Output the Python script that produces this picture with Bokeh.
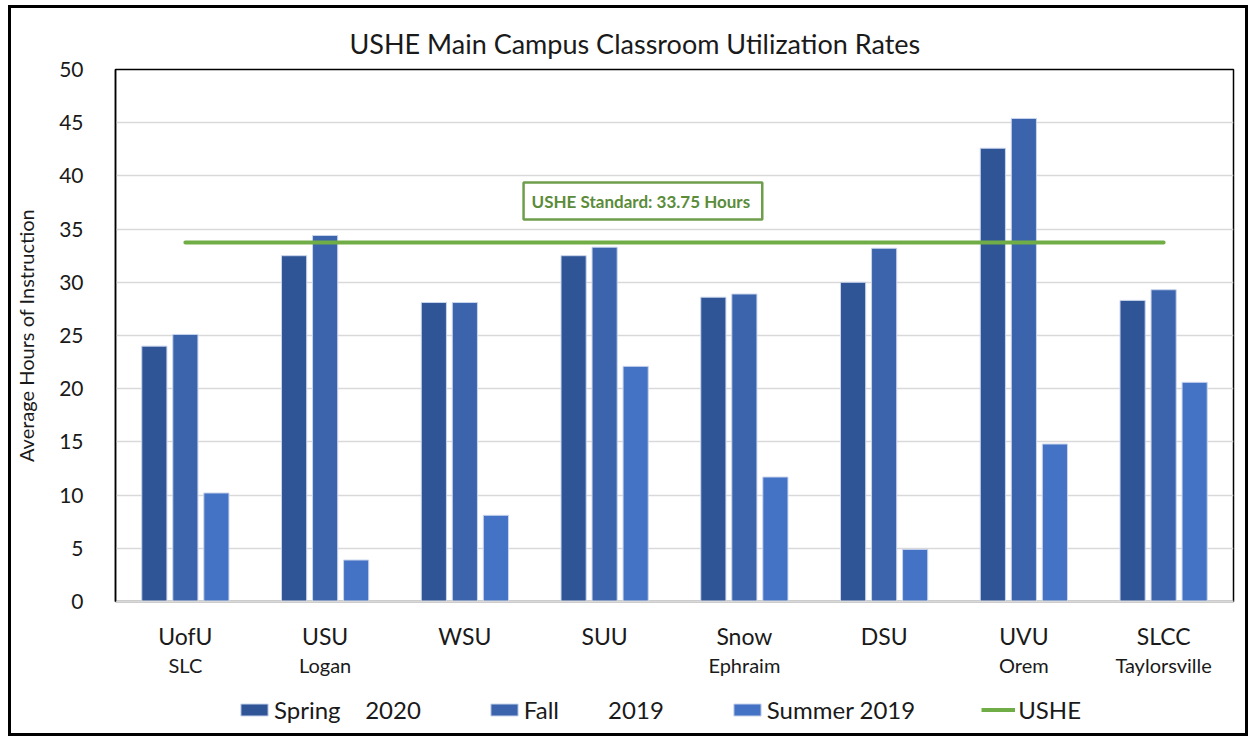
from bokeh.plotting import figure
from bokeh.layouts import column
from bokeh.models import (ColumnDataSource, Range1d, FixedTicker, LinearAxis, Legend, LegendItem,
                          Label, Title)
from bokeh.transform import dodge
from bokeh.embed import file_html
from bokeh.resources import INLINE

schools = ["UofU", "USU", "WSU", "SUU", "Snow", "DSU", "UVU", "SLCC"]
cities = ["SLC", "Logan", "", "", "Ephraim", "", "Orem", "Taylorsville"]
spring_2020 = [24.0, 32.5, 28.1, 32.5, 28.6, 30.0, 42.6, 28.3]
fall_2019 = [25.1, 34.4, 28.1, 33.3, 28.9, 33.2, 45.4, 29.3]
summer_2019 = [10.2, 3.9, 8.1, 22.1, 11.7, 4.9, 14.8, 20.6]
ushe_standard = 33.75
y_ticks = [0, 5, 10, 15, 20, 25, 30, 35, 40, 45, 50]
series_labels = ["Spring    2020", "Fall        2019", "Summer 2019", "USHE"]

FONT = "Lato"
TXT = "#1A1A1A"
C_SPRING, C_FALL, C_SUMMER, C_USHE = "#2F5597", "#3B64AD", "#4472C4", "#70AD47"
EDGE = "#C9D4EC"

idx = list(range(len(schools)))
src = ColumnDataSource(dict(x=idx, spring=spring_2020, fall=fall_2019, summer=summer_2019,
                            ushe=[ushe_standard] * len(schools)))

p = figure(frame_width=1118, frame_height=532, output_backend="svg", toolbar_location=None,
           x_range=Range1d(-0.5, len(schools) - 0.5), y_range=Range1d(0, 50),
           min_border_left=90, min_border_right=12, min_border_top=61, min_border_bottom=86,
           x_axis_location=None, y_axis_location=None)

p.title = Title(text="USHE Main Campus Classroom Utilization Rates", align="left",
                text_font=FONT, text_font_size="27px", text_font_style="normal",
                text_color=TXT, offset=234, standoff=20)

p.outline_line_color = "black"
p.outline_line_width = 1.5
p.xgrid.grid_line_color = None
p.ygrid.grid_line_color = "#D9D9D9"
p.ygrid.grid_line_width = 1.5
p.ygrid.ticker = FixedTicker(ticks=y_ticks)

# y axis
yax = LinearAxis(ticker=FixedTicker(ticks=y_ticks), axis_label="Average Hours of Instruction")
yax.axis_line_color = "black"
yax.axis_line_width = 1.5
yax.major_tick_line_color = None
yax.minor_tick_line_color = None
yax.major_label_text_font = FONT
yax.major_label_text_font_size = "21px"
yax.major_label_text_color = TXT
yax.major_label_standoff = 26
yax.axis_label_text_font = FONT
yax.axis_label_text_font_size = "20px"
yax.axis_label_text_font_style = "normal"
yax.axis_label_text_color = TXT
yax.axis_label_standoff = 18
p.add_layout(yax, "left")

# x axis: school names
xax = LinearAxis(ticker=FixedTicker(ticks=idx),
                 major_label_overrides={i: s for i, s in zip(idx, schools)})
xax.axis_line_color = "#D9D9D9"
xax.axis_line_width = 2
xax.major_tick_line_color = None
xax.minor_tick_line_color = None
xax.major_tick_out = 0
xax.minor_tick_out = 0
xax.major_label_text_font = FONT
xax.major_label_text_font_size = "23px"
xax.major_label_text_color = TXT
xax.major_label_standoff = 20
p.add_layout(xax, "below")

# x axis: cities
cax = LinearAxis(ticker=FixedTicker(ticks=idx),
                 major_label_overrides={i: (c if c else " ") for i, c in zip(idx, cities)})
cax.axis_line_color = None
cax.major_tick_line_color = None
cax.minor_tick_line_color = None
cax.major_tick_out = 0
cax.minor_tick_out = 0
cax.major_label_text_font = FONT
cax.major_label_text_font_size = "20px"
cax.major_label_text_color = TXT
cax.major_label_standoff = 0
p.add_layout(cax, "below")

bw = 0.18
off = 0.222
p.vbar(x=dodge("x", -off, range=p.x_range), top="spring", width=bw, source=src,
       fill_color=C_SPRING, line_color=EDGE, line_width=1)
p.vbar(x=dodge("x", 0.0, range=p.x_range), top="fall", width=bw, source=src,
       fill_color=C_FALL, line_color=EDGE, line_width=1)
p.vbar(x=dodge("x", off, range=p.x_range), top="summer", width=bw, source=src,
       fill_color=C_SUMMER, line_color=EDGE, line_width=1)
p.line(x="x", y="ushe", source=src, line_color=C_USHE, line_width=4, line_cap="round")

ann = Label(x=2.42, y=35.9, text="USHE Standard:  33.75 Hours", text_font=FONT,
            text_font_size="17px", text_font_style="bold", text_color="#5B8C3A",
            border_line_color="#6E9E4C", border_line_width=2.5, background_fill_color="white",
            padding=8)
p.add_layout(ann)

# legend strip: second figure with the same series (out of its visible range), legend only
p2 = figure(frame_width=1118, frame_height=46, output_backend="svg", toolbar_location=None,
            x_range=Range1d(-0.5, len(schools) - 0.5), y_range=Range1d(100, 101),
            min_border_left=104, min_border_right=12, min_border_top=0, min_border_bottom=0,
            x_axis_location=None, y_axis_location=None)
p2.outline_line_color = None
p2.grid.grid_line_color = None
e1 = p2.vbar(x="x", top="spring", width=bw, source=src, fill_color=C_SPRING, line_color=EDGE)
e2 = p2.vbar(x="x", top="fall", width=bw, source=src, fill_color=C_FALL, line_color=EDGE)
e3 = p2.vbar(x="x", top="summer", width=bw, source=src, fill_color=C_SUMMER, line_color=EDGE)
e4 = p2.line(x="x", y="ushe", source=src, line_color=C_USHE, line_width=4)

legend = Legend(items=[LegendItem(label=lab, renderers=[r])
                       for lab, r in zip(series_labels, [e1, e2, e3, e4])],
                orientation="horizontal", location=(122, 9), border_line_color=None,
                background_fill_alpha=0, label_text_font=FONT, label_text_font_size="24px",
                label_text_color=TXT, glyph_width=34, glyph_height=15, label_standoff=3,
                spacing=66, padding=0, margin=0)
p2.add_layout(legend, "center")

layout = column(p, p2, spacing=0)
layout.styles = {"border": "3px solid black", "margin-left": "8px", "margin-top": "5px"}

open("out.html", "w").write(file_html(layout, INLINE))
